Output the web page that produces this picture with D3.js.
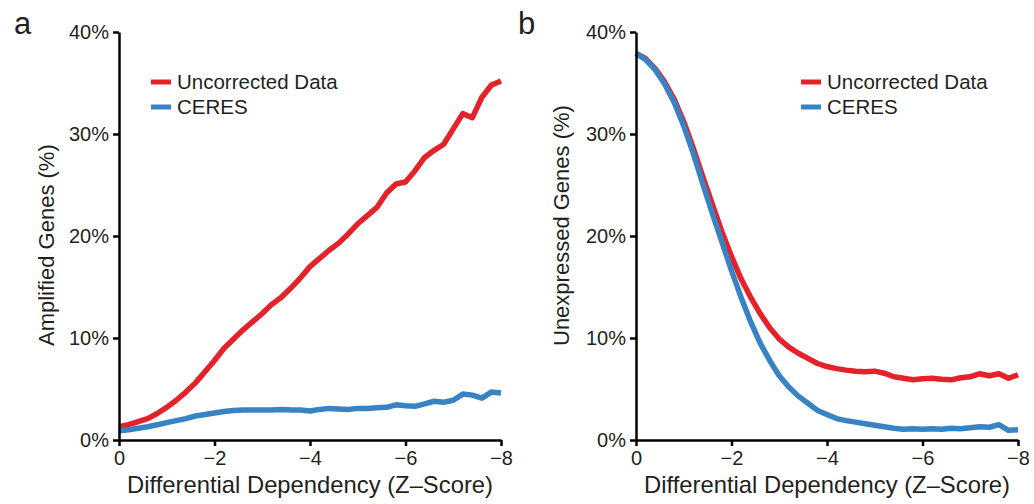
<!DOCTYPE html>
<html>
<head>
<meta charset="utf-8">
<script src="https://cdnjs.cloudflare.com/ajax/libs/d3/7.8.5/d3.min.js"></script>
<style>
  body { margin: 0; background: #fff; }
  svg text { font-family: "Liberation Sans", Arial, Helvetica, sans-serif; fill: #231f20; }
</style>
</head>
<body>
<div id="chart"></div>
<script>
// z-score grid shared by all series (0 down to -8, step 0.2)
let zScores = [0, -0.2, -0.4, -0.6, -0.8, -1.0, -1.2, -1.4, -1.6, -1.8, -2.0, -2.2, -2.4, -2.6, -2.8, -3.0,
    -3.2, -3.4, -3.6, -3.8, -4.0, -4.2, -4.4, -4.6, -4.8, -5.0, -5.2, -5.4, -5.6, -5.8, -6.0,
    -6.2, -6.4, -6.6, -6.8, -7.0, -7.2, -7.4, -7.6, -7.8, -8.0];

// panel a: amplified genes (%)
let ampUncorrected = [1.3, 1.5, 1.8, 2.1, 2.6, 3.2, 3.9, 4.7, 5.6, 6.7, 7.8, 9.0, 9.9, 10.8, 11.6, 12.4,
    13.3, 14.0, 14.9, 15.9, 17.0, 17.8, 18.6, 19.3, 20.2, 21.2, 22.0, 22.8, 24.2, 25.1, 25.3,
    26.4, 27.7, 28.4, 29.0, 30.5, 32.0, 31.6, 33.6, 34.8, 35.2];
let ampCeres = [0.9, 1.0, 1.15, 1.3, 1.5, 1.7, 1.9, 2.1, 2.35, 2.5, 2.65, 2.8, 2.9, 2.95, 2.95, 2.95,
    2.95, 3.0, 2.95, 2.95, 2.85, 3.0, 3.1, 3.05, 3.0, 3.1, 3.1, 3.15, 3.2, 3.45, 3.35,
    3.3, 3.55, 3.8, 3.7, 3.9, 4.5, 4.4, 4.1, 4.7, 4.6];

// panel b: unexpressed genes (%)
let unexpUncorrected = [37.9, 37.4, 36.4, 35.1, 33.4, 31.2, 28.6, 25.8, 23.1, 20.4, 18.0, 15.8, 14.0, 12.4, 11.0, 9.9,
    9.1, 8.5, 8.0, 7.5, 7.2, 7.0, 6.85, 6.75, 6.7, 6.75, 6.55, 6.2, 6.05, 5.9, 6.0,
    6.05, 5.95, 5.9, 6.1, 6.2, 6.5, 6.3, 6.5, 6.05, 6.4];
let unexpCeres = [37.9, 37.3, 36.3, 34.9, 33.1, 30.8, 28.1, 25.1, 22.2, 19.4, 16.6, 14.0, 11.6, 9.5, 7.8, 6.3,
    5.2, 4.3, 3.6, 2.9, 2.5, 2.1, 1.9, 1.75, 1.6, 1.45, 1.3, 1.15, 1.05, 1.1, 1.05,
    1.1, 1.05, 1.15, 1.1, 1.2, 1.3, 1.25, 1.5, 0.95, 1.0];

let seriesNames = ['Uncorrected Data', 'CERES'];
let colors = ['#e3222a', '#3883c3'];
let xTicks = [0, -2, -4, -6, -8];
let yTicks = [0, 10, 20, 30, 40];

let svg = d3.select('#chart').append('svg')
    .attr('width', 1034)
    .attr('height', 504);

function drawPanel(opts) {
    let x = d3.scaleLinear().domain([0, -8]).range([opts.left, opts.left + 382]),
        y = d3.scaleLinear().domain([0, 40]).range([440, 32]);

    let g = svg.append('g');

    let line = d3.line()
        .x((d, i) => x(zScores[i]))
        .y(d => y(d));

    opts.series.forEach((vals, i) => {
        g.append('path')
            .datum(vals)
            .attr('d', line)
            .style('fill', 'none')
            .style('stroke', colors[i])
            .style('stroke-width', '5.5px')
            .style('stroke-linejoin', 'round');
    });

    let xAxis = d3.axisBottom(x)
        .tickValues(xTicks)
        .tickSize(6)
        .tickSizeOuter(0)
        .tickPadding(5)
        .tickFormat(d => d === 0 ? '0' : '\u2212' + Math.abs(d));

    let yAxis = d3.axisLeft(y)
        .tickValues(yTicks)
        .tickSize(6)
        .tickSizeOuter(0)
        .tickPadding(4)
        .tickFormat(d => d + '%');

    let gx = g.append('g')
        .attr('transform', 'translate(0,440)')
        .call(xAxis);
    let gy = g.append('g')
        .attr('transform', 'translate(' + opts.left + ',0)')
        .call(yAxis);

    [gx, gy].forEach(ax => {
        ax.selectAll('path, line').style('stroke', '#000').style('stroke-width', '2.5px');
        ax.selectAll('text').style('font-size', '20px').style('fill', '#231f20')
            .style('font-family', '"Liberation Sans", Arial, sans-serif');
    });

    g.append('text')
        .attr('x', opts.left + 191)
        .attr('y', 493)
        .attr('text-anchor', 'middle')
        .style('font-size', '23.8px')
        .text('Differential Dependency (Z\u2013Score)');

    // y titles start at the same height in both panels
    g.append('text')
        .attr('transform', 'translate(' + opts.titleX + ',346) rotate(-90)')
        .attr('text-anchor', 'start')
        .style('font-size', '22px')
        .text(opts.yTitle);

    g.append('text')
        .attr('x', opts.letterX)
        .attr('y', 34)
        .style('font-size', '31px')
        .text(opts.letter);

    // legend
    seriesNames.forEach((name, i) => {
        let ly = 82 + i * 25;
        g.append('line')
            .attr('x1', opts.legendX)
            .attr('x2', opts.legendX + 20)
            .attr('y1', ly)
            .attr('y2', ly)
            .style('stroke', colors[i])
            .style('stroke-width', '5px');
        g.append('text')
            .attr('x', opts.legendX + 26)
            .attr('y', ly + 7)
            .style('font-size', '20.5px')
            .text(name);
    });
}

drawPanel({
    left: 119, series: [ampUncorrected, ampCeres], yTitle: 'Amplified Genes (%)',
    titleX: 54, letter: 'a', letterX: 14, legendX: 151
});

drawPanel({
    left: 636, series: [unexpUncorrected, unexpCeres], yTitle: 'Unexpressed Genes (%)',
    titleX: 569, letter: 'b', letterX: 518, legendX: 801
});
</script>
</body>
</html>
